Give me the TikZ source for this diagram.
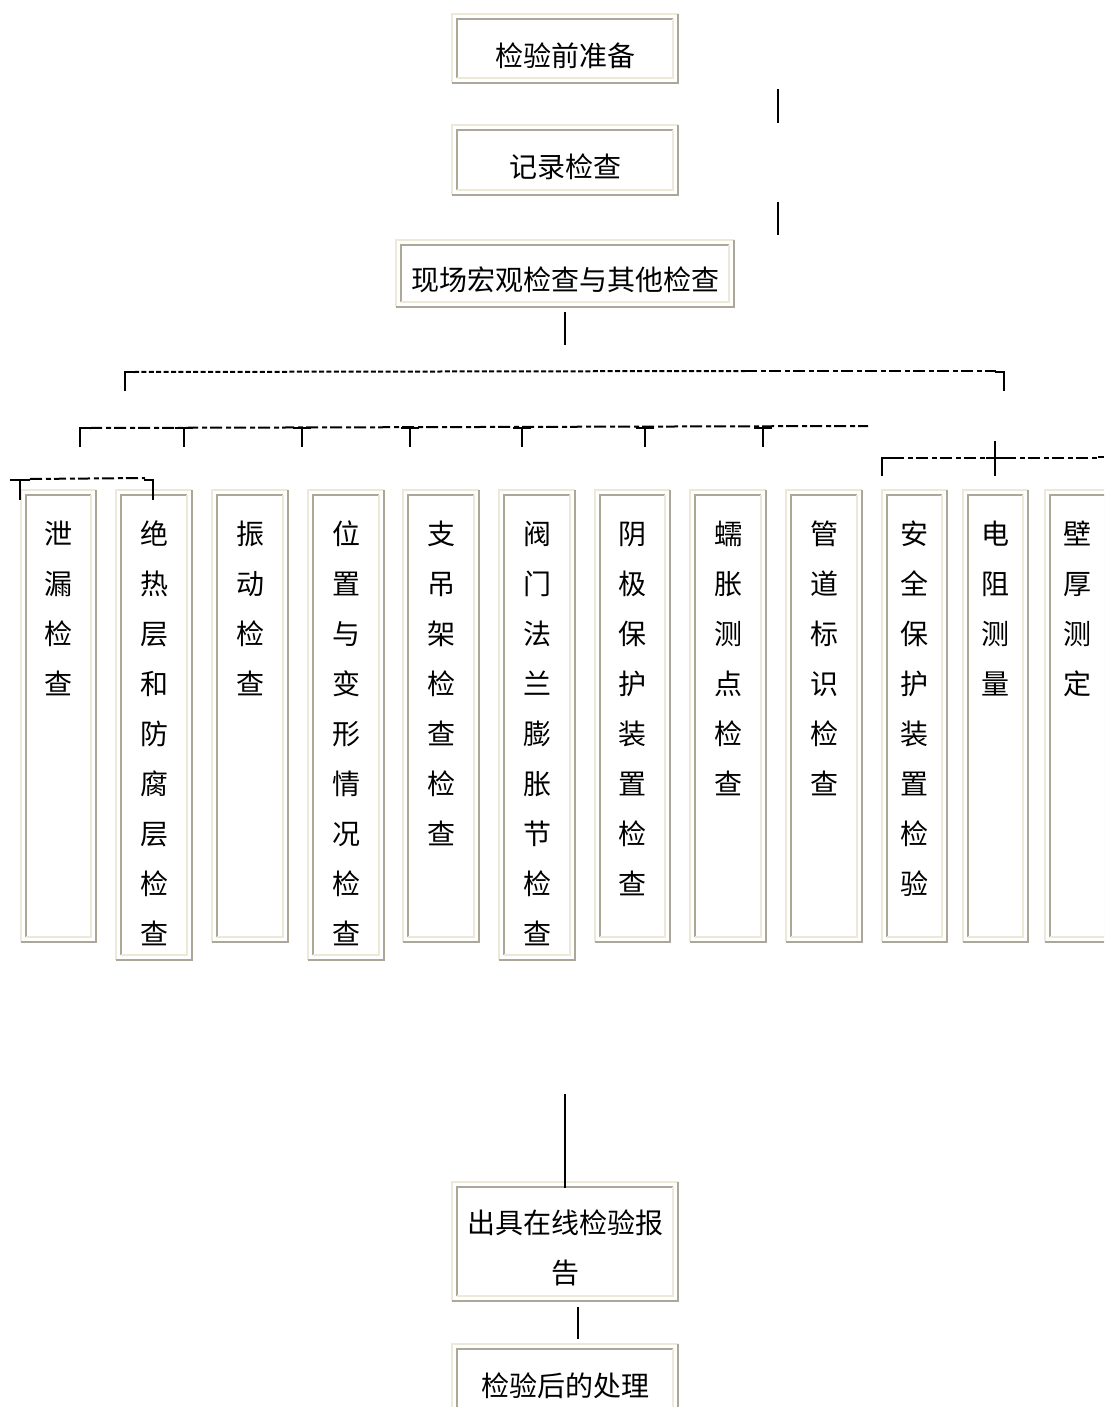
\documentclass[tikz,border=0pt]{standalone}
\usepackage{fontspec}
\newfontfamily\cjk{Noto Sans CJK SC}
\usetikzlibrary{calc}
\definecolor{frlt}{HTML}{ECE9D8}
\definecolor{frdk}{HTML}{ACA899}
\tikzset{
  box/.style={inner sep=0pt, outer sep=0pt, font=\cjk\fontsize{14}{25}\selectfont},
  fo/.style={line width=0.8pt},
  fi/.style={line width=1pt},
  tick/.style={line width=1.4pt, black},
  thin line/.style={line width=0.8pt, black},
  dsh/.style={line width=1pt, black, dash pattern=on 2.5pt off 1.2pt},
  dshl/.style={line width=1pt, black, dash pattern=on 6pt off 2pt on 2.5pt off 1.5pt},
}
\newcommand\frm[1]{%
  \draw[fo, frlt] (#1.south west) -- (#1.north west) -- (#1.north east);
  \draw[fo, frdk] (#1.north east) -- (#1.south east) -- (#1.south west);
  \draw[fi, frdk] ($(#1.south west)+(5,-5)$) -- ($(#1.north west)+(5,5)$) -- ($(#1.north east)+(-5,5)$);
  \draw[fi, frlt] ($(#1.north east)+(-5,5)$) -- ($(#1.south east)+(-5,-5)$) -- ($(#1.south west)+(5,-5)$);
}
% name, x1, y1, x2, y2, baseline offset, text
\newcommand\wb[7]{%
  \node[box, minimum width={(#4-#2)*0.5pt}, minimum height={(#5-#3)*0.5pt}] (#1) at ({(#2+#4)/2},{(#3+#5)/2})
    {\parbox[c][\dimexpr(#5pt-#3pt)/2\relax][t]{\dimexpr(#4pt-#2pt)/2\relax}{\centering\rule{0pt}{#6}#7\par}};
  \frm{#1}}
\begin{document}
\begin{tikzpicture}[x=0.5pt, y=-0.5pt]
\useasboundingbox (0,0) rectangle (1104,1407);
\clip (0,0) rectangle (1104,1407);
\fill[white] (0,0) rectangle (1104,1407);

% horizontal boxes
\wb{p1}{452}{14}{678}{83}{26.3pt}{检验前准备}
\wb{p2}{452}{125}{678}{195}{26.3pt}{记录检查}
\wb{p3}{396}{240}{734}{307}{25.3pt}{现场宏观检查与其他检查}
\wb{rep}{452}{1182}{678}{1301}{25.5pt}{出具在线检验报\\告}
\wb{post}{452}{1344}{678}{1414}{26.3pt}{检验后的处理}

% vertical boxes
\wb{v1}{21}{490}{96}{942}{27pt}{泄\\漏\\检\\查}
\wb{v2}{116}{490}{192}{960}{27pt}{绝\\热\\层\\和\\防\\腐\\层\\检\\查}
\wb{v3}{212}{490}{288}{942}{27pt}{振\\动\\检\\查}
\wb{v4}{308}{490}{384}{960}{27pt}{位\\置\\与\\变\\形\\情\\况\\检\\查}
\wb{v5}{403}{490}{479}{942}{27pt}{支\\吊\\架\\检\\查\\检\\查}
\wb{v6}{499}{490}{575}{960}{27pt}{阀\\门\\法\\兰\\膨\\胀\\节\\检\\查}
\wb{v7}{595}{490}{670}{942}{27pt}{阴\\极\\保\\护\\装\\置\\检\\查}
\wb{v8}{690}{490}{766}{942}{27pt}{蠕\\胀\\测\\点\\检\\查}
\wb{v9}{786}{490}{862}{942}{27pt}{管\\道\\标\\识\\检\\查}
\wb{v10}{882}{490}{947}{942}{27pt}{安\\全\\保\\护\\装\\置\\检\\验}
\wb{v11}{963}{490}{1028}{942}{27pt}{电\\阻\\测\\量}
\wb{v12}{1045}{490}{1110}{942}{27pt}{壁\\厚\\测\\定}

% free tick marks
\coordinate (t1a) at (778,89);  \coordinate (t1b) at (778,123);
\coordinate (t2a) at (778,202); \coordinate (t2b) at (778,235);
\coordinate (t3a) at (565,312); \coordinate (t3b) at (565,345);
\draw[tick] (t1a) -- (t1b);
\draw[tick] (t2a) -- (t2b);
\draw[tick] (t3a) -- (t3b);

% bracket row 1
\coordinate (r1m) at (745,371);
\draw[tick] (125,391) |- (134,372);
\draw[dsh] (134,372) -- (r1m);
\draw[dshl] (r1m) -- (996,371);
\draw[tick] (995,372) -| (1004,391);

% bracket row 2
\draw[tick] (80,447) |- (90,428);
\draw[dshl] (90,428) -- (868,426);
\foreach \xx in {184,302,410,522,645,763}{
  \draw[tick] (\xx-9,428) -- (\xx+9,428);
  \draw[tick] (\xx,428) -- (\xx,447);
}

% bracket row 3 left
\draw[tick] (10,480) -- (30,480);
\draw[tick] (20,480) -- (20,500);
\draw[dshl] (30,479) -- (145,478);
\draw[tick] (144,480) -| (153,500);

% bracket row 3 right
\draw[tick] (882,476) |- (892,458);
\draw[dshl] (892,458) -- (986,458);
\draw[tick] (986,458) -- (1004,458);
\draw[tick] (995,441) -- (995,476);
\draw[dshl] (1004,458) -- (1098,458);
\draw[tick] (1098,457) -- (1104,457);

% connectors at bottom
\coordinate (b1a) at (565,1094);
\draw[thin line] (b1a) -- ($(rep.north)+(0,6)$);
\coordinate (b2a) at (578,1307); \coordinate (b2b) at (578,1339);
\draw[tick] (b2a) -- (b2b);
\end{tikzpicture}
\end{document}
